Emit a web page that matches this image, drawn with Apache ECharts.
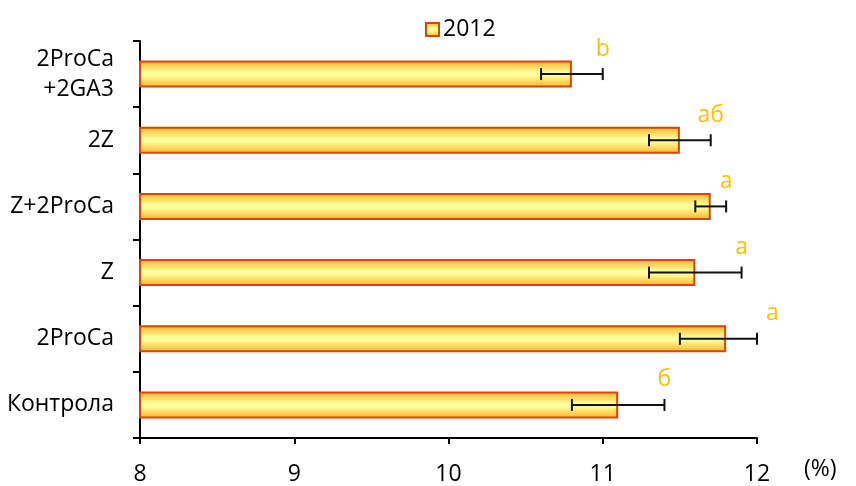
<!DOCTYPE html>
<html>
<head>
<meta charset="utf-8">
<script src="https://cdn.jsdelivr.net/npm/echarts@6/dist/echarts.min.js"></script>
<style>
  html, body { margin: 0; padding: 0; background: #fff; }
  #chart { width: 856px; height: 486px; }
</style>
</head>
<body>
<div id="chart"></div>
<script>
// Treatments, listed bottom to top
const categories = ['Контрола', '2ProCa', 'Z', 'Z+2ProCa', '2Z', '2ProCa\n+2GA3'];
// Mean values, 2012 (%)
const values2012 = [11.1, 11.8, 11.6, 11.7, 11.5, 10.8];
// Standard error (±)
const errors2012 = [0.3, 0.3, 0.3, 0.1, 0.2, 0.2];
// Significance letters
const letters = ['б', 'а', 'а', 'а', 'аб', 'b'];
const xTicks = [8, 9, 10, 11, 12];

const X_MIN = xTicks[0];
const X_MAX = xTicks[xTicks.length - 1];
const FONT = 'Open Sans';
const FS = 23;

const chart = echarts.init(document.getElementById('chart'), null, { renderer: 'canvas' });

const barGradient = new echarts.graphic.LinearGradient(0, 0, 0, 1, [
  { offset: 0, color: '#F8B225' },
  { offset: 0.45, color: '#FFFF9C' },
  { offset: 0.55, color: '#FFFF9C' },
  { offset: 1, color: '#F8B225' }
]);

const errorData = values2012.map((v, i) => [i, Math.max(X_MIN, v - errors2012[i]), Math.min(X_MAX, v + errors2012[i])]);
const letterData = values2012.map((v, i) => [i, v + errors2012[i]]);

chart.setOption({
  animation: false,
  textStyle: { fontFamily: FONT },
  legend: {
    top: 13,
    left: 420,
    icon: 'rect',
    itemWidth: 13,
    itemHeight: 13,
    itemGap: 4,
    textStyle: { fontSize: FS, color: '#000', fontFamily: FONT, padding: [0, 0, 0, -1] },
    data: ['2012']
  },
  grid: { left: 140, right: 99, top: 41, bottom: 48, containLabel: false },
  xAxis: {
    type: 'value',
    min: X_MIN,
    max: X_MAX,
    interval: 1,
    axisLine: { show: true, lineStyle: { color: '#000', width: 2 } },
    axisTick: { show: true, length: 6, lineStyle: { color: '#000', width: 2 } },
    axisLabel: { color: '#000', fontSize: FS, margin: 25, fontFamily: FONT },
    splitLine: { show: false }
  },
  yAxis: {
    type: 'category',
    data: categories,
    axisLine: { show: true, lineStyle: { color: '#000', width: 2 } },
    axisTick: { show: true, length: 7, alignWithLabel: false, lineStyle: { color: '#000', width: 2 } },
    axisLabel: { color: '#000', fontSize: FS, margin: 26, lineHeight: 30, fontFamily: FONT }
  },
  graphic: [{
    type: 'text',
    left: 804,
    top: 458,
    style: { text: '(%)', fontSize: FS, fill: '#000', fontFamily: FONT }
  }],
  series: [
    {
      name: '2012',
      type: 'bar',
      data: values2012,
      barWidth: 27,
      itemStyle: { color: barGradient, borderColor: '#E0420A', borderWidth: 2 },
      z: 2
    },
    {
      name: 'error',
      type: 'custom',
      data: errorData,
      z: 3,
      renderItem: function (params, api) {
        const c = api.value(0);
        const lo = api.coord([api.value(1), c]);
        const hi = api.coord([api.value(2), c]);
        const h = 6;
        const style = { stroke: '#111', lineWidth: 2 };
        return {
          type: 'group',
          children: [
            { type: 'line', shape: { x1: lo[0], y1: lo[1], x2: hi[0], y2: hi[1] }, style: style },
            { type: 'line', shape: { x1: lo[0], y1: lo[1] - h, x2: lo[0], y2: lo[1] + h }, style: style },
            { type: 'line', shape: { x1: hi[0], y1: hi[1] - h, x2: hi[0], y2: hi[1] + h }, style: style }
          ]
        };
      }
    },
    {
      name: 'letters',
      type: 'custom',
      data: letterData,
      z: 4,
      renderItem: function (params, api) {
        const c = api.value(0);
        const p = api.coord([api.value(1), c]);
        return {
          type: 'text',
          x: p[0],
          y: p[1] - 25,
          style: {
            text: letters[params.dataIndex],
            fill: '#FFC000',
            fontSize: 23,
            fontFamily: FONT,
            align: 'center',
            verticalAlign: 'middle'
          }
        };
      }
    }
  ]
});
</script>
</body>
</html>
